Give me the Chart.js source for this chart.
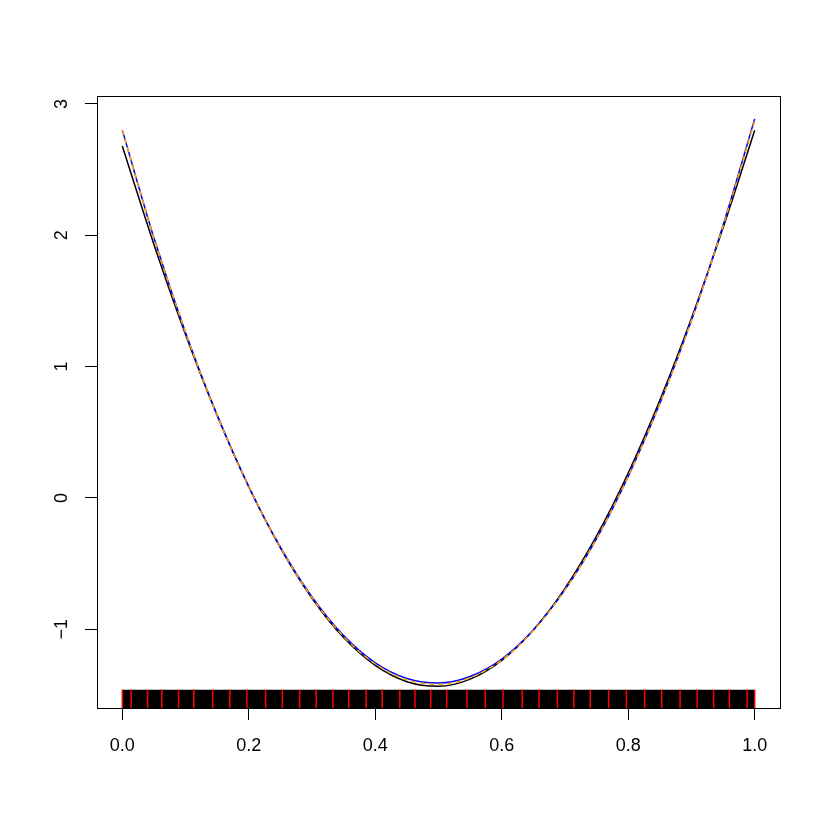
<!DOCTYPE html>
<html>
<head>
<meta charset="utf-8">
<script src="https://cdn.jsdelivr.net/npm/chart.js@4"></script>
<style>
  html, body { margin: 0; padding: 0; background: #fff; }
  #wrap { width: 830px; height: 830px; }
</style>
</head>
<body>
<div id="wrap"><canvas id="fitChart"></canvas></div>
<script>
const xGrid = [0, 0.05, 0.1, 0.15, 0.2, 0.25, 0.3, 0.35, 0.4, 0.45, 0.5,
               0.55, 0.6, 0.65, 0.7, 0.75, 0.8, 0.85, 0.9, 0.95, 1.0];
// black: true function
const trueCurve = [2.68, 1.93, 1.245, 0.629, 0.085, -0.380, -0.764, -1.064, -1.276, -1.400, -1.435,
                   -1.380, -1.237, -1.006, -0.689, -0.290, 0.189, 0.743, 1.367, 2.056, 2.80];
// blue: fit 1
const fitBlue = [2.80, 1.98, 1.26, 0.629, 0.085, -0.375, -0.754, -1.049, -1.256, -1.375, -1.41,
                 -1.36, -1.227, -1.006, -0.699, -0.31, 0.164, 0.718, 1.352, 2.076, 2.886];
// orange dashed: fit 2
const fitOrange = [2.80, 1.98, 1.26, 0.629, 0.085, -0.378, -0.76, -1.056, -1.265, -1.385, -1.42,
                   -1.37, -1.235, -1.01, -0.70, -0.31, 0.164, 0.718, 1.35, 2.07, 2.87];
// red rug: knot positions
const knots = [0.000, 0.014, 0.040, 0.0625, 0.089, 0.113, 0.143, 0.170, 0.197, 0.2266,
               0.253, 0.2805, 0.3066, 0.333, 0.358, 0.3856, 0.411, 0.4388, 0.4628, 0.4877,
               0.513, 0.545, 0.574, 0.602, 0.6324, 0.659, 0.688, 0.714, 0.740, 0.769,
               0.797, 0.826, 0.853, 0.882, 0.909, 0.935, 0.960, 0.988, 1.000];
// black rug: data x covers the whole range densely
const rugRange = [0, 1];
const xTicks = [0, 0.2, 0.4, 0.6, 0.8, 1.0];
const yTicks = [-1, 0, 1, 2, 3];

const X_MIN = -0.04, X_MAX = 1.04;
const Y_MIN = -1.6, Y_MAX = 3.06;
const rugTop = Y_MIN + 0.03 * (Y_MAX - Y_MIN);
const FONT = '"Liberation Sans", Arial, sans-serif';

const toPoints = (ys) => xGrid.map((x, i) => ({ x, y: ys[i] }));

const frame = {
    id: 'frame',
    afterDraw(chart) {
        const { ctx, chartArea: a, scales } = chart;
        ctx.save();
        ctx.strokeStyle = '#000';
        ctx.lineWidth = 1;
        ctx.strokeRect(Math.round(a.left) + 0.5, Math.round(a.top) + 0.5,
            Math.round(a.right - a.left), Math.round(a.bottom - a.top));
        // y labels, rotated like R's las = 0
        ctx.fillStyle = '#000';
        ctx.font = '18px ' + FONT;
        ctx.textAlign = 'center';
        ctx.textBaseline = 'middle';
        scales.y.ticks.forEach((t) => {
            const y = scales.y.getPixelForValue(t.value);
            const label = t.value < 0 ? '\u2212' + Math.abs(t.value) : String(t.value);
            ctx.save();
            ctx.translate(62, y);
            ctx.rotate(-Math.PI / 2);
            ctx.fillText(label, 0, 0);
            ctx.restore();
        });
        ctx.restore();
    },
};

new Chart(document.getElementById('fitChart'), {
    type: 'line',
    data: {
        datasets: [
            {
                data: toPoints(fitOrange),
                borderColor: '#FFA500',
                borderWidth: 1.5,
                borderDash: [5, 4],
                pointRadius: 0,
                cubicInterpolationMode: 'monotone',
                fill: false,
                order: 0,
            },
            {
                data: toPoints(fitBlue),
                borderColor: '#0000FF',
                borderWidth: 1.5,
                pointRadius: 0,
                cubicInterpolationMode: 'monotone',
                fill: false,
                order: 1,
            },
            {
                data: toPoints(trueCurve),
                borderColor: '#000000',
                borderWidth: 1.5,
                pointRadius: 0,
                cubicInterpolationMode: 'monotone',
                fill: false,
                order: 2,
            },
            {
                data: knots.map((x) => ({ x, y: (Y_MIN + rugTop) / 2 })),
                showLine: false,
                pointStyle: 'line',
                rotation: 90,
                pointRadius: 9.2,
                pointBorderColor: '#FF0000',
                pointBorderWidth: 1.5,
                order: 3,
            },
            {
                data: rugRange.map((x) => ({ x, y: rugTop })),
                borderWidth: 0,
                pointRadius: 0,
                backgroundColor: '#000000',
                fill: { value: Y_MIN },
                order: 4,
            },
        ],
    },
    options: {
        responsive: true,
        maintainAspectRatio: false,
        animation: false,
        layout: { padding: { top: 96, right: 50, left: 0, bottom: 0 } },
        scales: {
            x: {
                type: 'linear',
                min: X_MIN,
                max: X_MAX,
                afterBuildTicks: (scale) => { scale.ticks = xTicks.map((value) => ({ value })); },
                afterFit: (scale) => { scale.height = 122; },
                border: { display: false },
                grid: { drawOnChartArea: false, tickLength: 12, color: '#000', lineWidth: 1 },
                ticks: {
                    color: '#000',
                    padding: 15,
                    maxRotation: 0,
                    font: { family: FONT, size: 18 },
                    callback: (value) => value.toFixed(1),
                },
            },
            y: {
                type: 'linear',
                min: Y_MIN,
                max: Y_MAX,
                afterBuildTicks: (scale) => { scale.ticks = yTicks.map((value) => ({ value })); },
                afterFit: (scale) => { scale.width = 97; },
                border: { display: false },
                grid: { drawOnChartArea: false, tickLength: 12, color: '#000', lineWidth: 1 },
                ticks: { display: false },
            },
        },
        plugins: {
            legend: { display: false },
            tooltip: { enabled: false },
        },
    },
    plugins: [frame],
});
</script>
</body>
</html>
